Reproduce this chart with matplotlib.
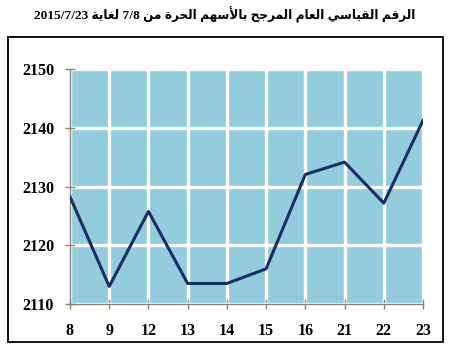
import matplotlib
matplotlib.use('Agg')
from matplotlib import pyplot as plt
from matplotlib.patches import Rectangle

# data
days = ['8', '9', '12', '13', '14', '15', '16', '21', '22', '23']
index_values = [2128.3, 2113.0, 2125.8, 2113.5, 2113.5, 2116.0, 2132.1, 2134.2, 2127.2, 2141.3]
yticks = [2110, 2120, 2130, 2140, 2150]
title = 'الرقم القياسي العام المرجح بالأسهم الحرة من 7/8 لغاية 2015/7/23'

# matplotlib does no arabic shaping, so pick presentation forms by hand
# (isolated, final[, initial, medial])
FORMS = {
	'ا': ('\ufe8d', '\ufe8e'),
	'أ': ('\ufe83', '\ufe84'),
	'ر': ('\ufead', '\ufeae'),
	'ة': ('\ufe93', '\ufe94'),
	'ب': ('\ufe8f', '\ufe90', '\ufe91', '\ufe92'),
	'ج': ('\ufe9d', '\ufe9e', '\ufe9f', '\ufea0'),
	'ح': ('\ufea1', '\ufea2', '\ufea3', '\ufea4'),
	'س': ('\ufeb1', '\ufeb2', '\ufeb3', '\ufeb4'),
	'ع': ('\ufec9', '\ufeca', '\ufecb', '\ufecc'),
	'غ': ('\ufecd', '\ufece', '\ufecf', '\ufed0'),
	'ق': ('\ufed5', '\ufed6', '\ufed7', '\ufed8'),
	'ل': ('\ufedd', '\ufede', '\ufedf', '\ufee0'),
	'م': ('\ufee1', '\ufee2', '\ufee3', '\ufee4'),
	'ن': ('\ufee5', '\ufee6', '\ufee7', '\ufee8'),
	'ه': ('\ufee9', '\ufeea', '\ufeeb', '\ufeec'),
	'ي': ('\ufef1', '\ufef2', '\ufef3', '\ufef4'),
	'لأ': ('\ufef7', '\ufef8'),
}

def shapeWord(w):
	units = []
	i = 0
	while i < len(w):
		if w[i:i+2] == 'لأ':
			units.append('لأ')
			i += 2
		else:
			units.append(w[i])
			i += 1
	out = []
	for k, u in enumerate(units):
		f = FORMS.get(u)
		if f is None:
			out.append(u)
			continue
		prev = units[k-1] if k > 0 else None
		nxt = units[k+1] if k+1 < len(units) else None
		jp = prev is not None and len(FORMS.get(prev, ())) == 4
		jn = nxt in FORMS and len(f) == 4
		if jp and jn:
			out.append(f[3])
		elif jp:
			out.append(f[1])
		elif jn:
			out.append(f[2])
		else:
			out.append(f[0])
	return ''.join(reversed(out))

def rtl(text):
	words = text.split(' ')
	return ' '.join(shapeWord(w) if any(c in FORMS for c in w) else w for w in reversed(words))

fig = plt.figure(figsize=(4.5, 3.5), dpi=100)
fig.patches.append(Rectangle((8/450, 8/350), 435/450, 305/350, transform=fig.transFigure,
	fill=False, edgecolor='black', linewidth=1.3))

fig.text(0.5, 1 - 15/350, rtl(title), ha='center', va='center', fontsize=9.6,
	fontweight='bold', fontstretch='condensed',
	family=['Liberation Serif', 'DejaVu Sans Condensed', 'DejaVu Sans'])

ax = fig.add_axes([70/450, 46/350, 353/450, 234.5/350])
ax.set_facecolor('#93cddd')
x = range(len(days))
ax.plot(x, index_values, color='#1b2b68', linewidth=2.2, zorder=3)

ax.set_xlim(0, len(days) - 1)
ax.set_ylim(2110, 2150)
ax.set_xticks(list(x))
ax.set_xticklabels(days)
ax.set_yticks(yticks)
ax.set_axisbelow(True)
ax.grid(True, color='white', linewidth=2.4)

for s in ['top', 'right']:
	ax.spines[s].set_visible(False)
for s in ['left', 'bottom']:
	ax.spines[s].set_color('#8c8275')
	ax.spines[s].set_linewidth(1.0)
	ax.spines[s].set_zorder(2.6)

ax.tick_params(direction='inout', length=7, color='#8c8275', width=1.0)
ax.tick_params(axis='x', pad=10)
ax.tick_params(axis='y', pad=8)
for lab in ax.get_xticklabels() + ax.get_yticklabels():
	lab.set_family('Liberation Serif')
	lab.set_fontweight('bold')
	lab.set_fontsize(11.5)

fig.savefig('out.png', dpi=100)
